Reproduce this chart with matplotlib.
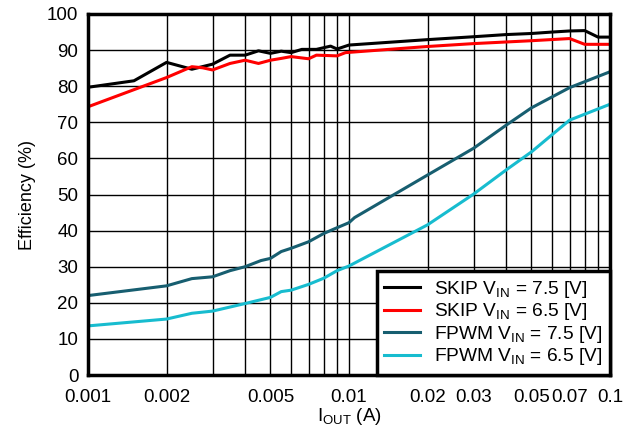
import numpy as np
import matplotlib
matplotlib.use("Agg")
import matplotlib.pyplot as plt
from matplotlib.ticker import FixedLocator, FixedFormatter, NullFormatter

plt.rcParams['font.family'] = ['Liberation Sans', 'DejaVu Sans']
plt.rcParams['mathtext.fontset'] = 'custom'
plt.rcParams['mathtext.rm'] = 'Liberation Sans'
plt.rcParams['mathtext.it'] = 'Liberation Sans'

# SKIP, Vin = 7.5 V
skip75_x = [0.001, 0.0015, 0.002, 0.0025, 0.003, 0.0035, 0.004, 0.0045, 0.005, 0.0055,
            0.006, 0.0066, 0.007, 0.0075, 0.0085, 0.009, 0.01, 0.02, 0.03, 0.04, 0.05,
            0.06, 0.07, 0.08, 0.09, 0.1]
skip75_y = [79.7, 81.5, 86.6, 84.7, 86.1, 88.6, 88.6, 89.8, 89.1, 89.7,
            89.3, 90.2, 90.2, 90.2, 91.1, 90.3, 91.4, 92.9, 93.7, 94.3, 94.6,
            95.0, 95.3, 95.4, 93.6, 93.6]

# SKIP, Vin = 6.5 V
skip65_x = [0.001, 0.002, 0.0025, 0.00275, 0.003, 0.0035, 0.004, 0.0045, 0.005, 0.0055,
            0.006, 0.007, 0.0075, 0.009, 0.0097, 0.02, 0.03, 0.05, 0.07, 0.08, 0.1]
skip65_y = [74.3, 82.4, 85.4, 85.1, 84.5, 86.3, 87.2, 86.3, 87.2, 87.7,
            88.2, 87.6, 88.6, 88.4, 89.3, 91.0, 91.8, 92.6, 93.2, 91.6, 91.6]

# FPWM, Vin = 7.5 V
fpwm75_x = [0.001, 0.002, 0.0025, 0.003, 0.0035, 0.004, 0.0046, 0.005, 0.0055, 0.006,
            0.007, 0.008, 0.009, 0.01, 0.0105, 0.02, 0.03, 0.04, 0.05, 0.07, 0.1]
fpwm75_y = [22.0, 24.7, 26.7, 27.2, 28.9, 30.0, 31.7, 32.3, 34.2, 35.1,
            36.9, 39.2, 40.8, 42.2, 43.6, 55.4, 62.8, 69.2, 74.0, 79.6, 84.0]

# FPWM, Vin = 6.5 V
fpwm65_x = [0.001, 0.002, 0.0025, 0.003, 0.004, 0.005, 0.0055, 0.006, 0.007, 0.008,
            0.009, 0.01, 0.0105, 0.02, 0.03, 0.04, 0.05, 0.07, 0.1]
fpwm65_y = [13.6, 15.5, 17.1, 17.7, 19.8, 21.5, 23.1, 23.5, 25.1, 26.8,
            28.9, 30.2, 31.0, 41.6, 50.1, 56.8, 61.8, 70.6, 75.0]

xticks = [0.001, 0.002, 0.005, 0.01, 0.02, 0.03, 0.05, 0.07, 0.1]
xtick_labels = ['0.001', '0.002', '0.005', '0.01', '0.02', '0.03', '0.05', '0.07', '0.1']
yticks = list(range(0, 101, 10))

fig = plt.figure(figsize=(6.34, 4.34), dpi=100)
ax = fig.add_axes([88/634, 1 - 375/434, 522/634, 361/434])

ax.plot(skip75_x, skip75_y, color='black', lw=2.2, label='SKIP V$_{\\mathrm{IN}}$ = 7.5 [V]')
ax.plot(skip65_x, skip65_y, color='#ff0000', lw=2.2, label='SKIP V$_{\\mathrm{IN}}$ = 6.5 [V]')
ax.plot(fpwm75_x, fpwm75_y, color='#175e70', lw=2.2, label='FPWM V$_{\\mathrm{IN}}$ = 7.5 [V]')
ax.plot(fpwm65_x, fpwm65_y, color='#17bccf', lw=2.2, label='FPWM V$_{\\mathrm{IN}}$ = 6.5 [V]')

ax.set_xscale('log')
ax.set_xlim(0.001, 0.1)
ax.set_ylim(0, 100)
ax.xaxis.set_major_locator(FixedLocator(xticks))
ax.xaxis.set_major_formatter(FixedFormatter(xtick_labels))
minors = [m * 10.0**e for e in (-3, -2) for m in range(2, 10)]
ax.xaxis.set_minor_locator(FixedLocator(minors))
ax.xaxis.set_minor_formatter(NullFormatter())
ax.set_yticks(yticks)

ax.grid(True, which='both', color='black', lw=1.0)
ax.tick_params(which='both', length=0, labelsize=13.5)
ax.tick_params(axis='x', pad=10)
ax.tick_params(axis='y', pad=7)
for s in ax.spines.values():
    s.set_linewidth(2.5)

ax.set_ylabel('Efficiency (%)', fontsize=13, labelpad=8)
ax.set_xlabel('I$_{\\mathrm{OUT}}$ (A)', fontsize=13.5, labelpad=0)

leg = ax.legend(loc='lower right', fontsize=13.8, fancybox=False, framealpha=1,
                edgecolor='black', borderaxespad=0, handlelength=1.85,
                labelspacing=0.08, borderpad=0.4, handletextpad=0.75)
leg.get_frame().set_linewidth(2.5)

fig.savefig('out.png', dpi=100)
